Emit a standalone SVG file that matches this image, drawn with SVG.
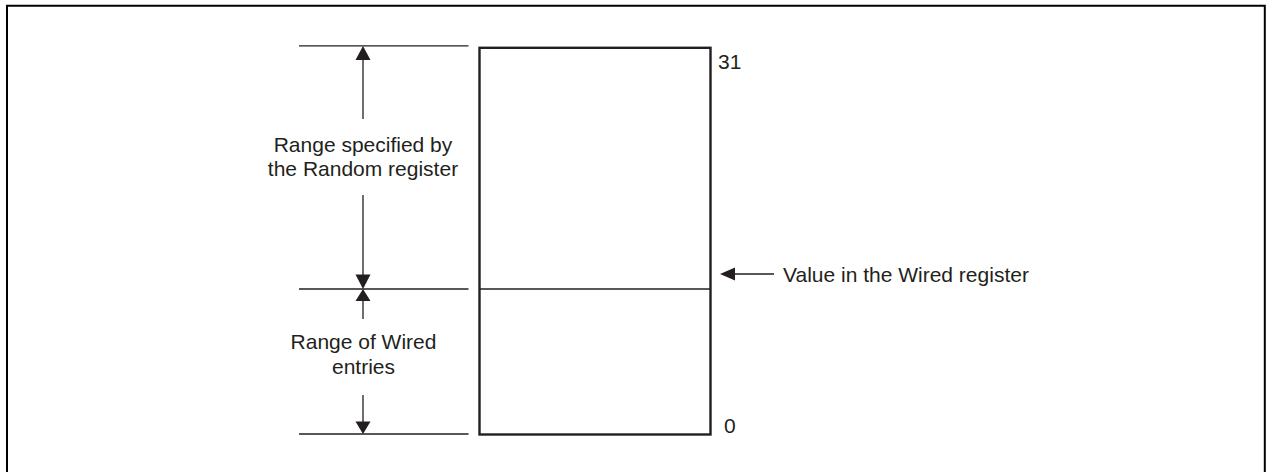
<svg xmlns="http://www.w3.org/2000/svg" width="1267" height="472" viewBox="0 0 1267 472">
<style>
text{font-family:"Liberation Sans",Arial,sans-serif;font-size:21px;fill:#231f20}
.c{text-anchor:middle}
.ln{stroke:#231f20;stroke-width:1.3;fill:none}
.ah{fill:#231f20;stroke:none}
</style>
<rect width="1267" height="472" fill="#fff"/>
<path d="M7 480V5.7H1264.8V480" fill="none" stroke="#000" stroke-width="2"/>
<g id="register">
<rect x="479.5" y="47.8" width="231" height="386.7" fill="none" stroke="#231f20" stroke-width="2.4"/>
<line x1="479.5" y1="289" x2="710.5" y2="289" class="ln"/>
<text x="718" y="69">31</text>
<text x="724" y="433">0</text>
</g>
<g id="extents">
<line x1="299" y1="45.8" x2="468.5" y2="45.8" class="ln"/>
<line x1="299" y1="289" x2="468.5" y2="289" class="ln"/>
<line x1="299" y1="434" x2="468.5" y2="434" class="ln"/>
</g>
<g id="random-range">
<text class="c" x="363" y="152">Range specified by</text>
<text class="c" x="363" y="176">the Random register</text>
</g>
<g id="wired-range">
<text class="c" x="363.5" y="349">Range of Wired</text>
<text class="c" x="363.5" y="374">entries</text>
</g>
<g id="wired-value">
<text x="783" y="282">Value in the Wired register</text>
</g>
<g id="connectors">
<line x1="363" y1="59" x2="363" y2="119" class="ln"/>
<polygon class="ah" points="363,46 355.5,60 370.5,60"/>
<line x1="363" y1="195" x2="363" y2="275" class="ln"/>
<polygon class="ah" points="363,289 355.5,274.5 370.5,274.5"/>
<line x1="363" y1="300" x2="363" y2="319" class="ln"/>
<polygon class="ah" points="363,289 355.5,301 370.5,301"/>
<line x1="363" y1="395" x2="363" y2="422" class="ln"/>
<polygon class="ah" points="363,434 355.5,421.5 370.5,421.5"/>
<line x1="734" y1="274" x2="774" y2="274" class="ln"/>
<polygon class="ah" points="720,274 735,267.5 735,280.5"/>
</g>
</svg>
